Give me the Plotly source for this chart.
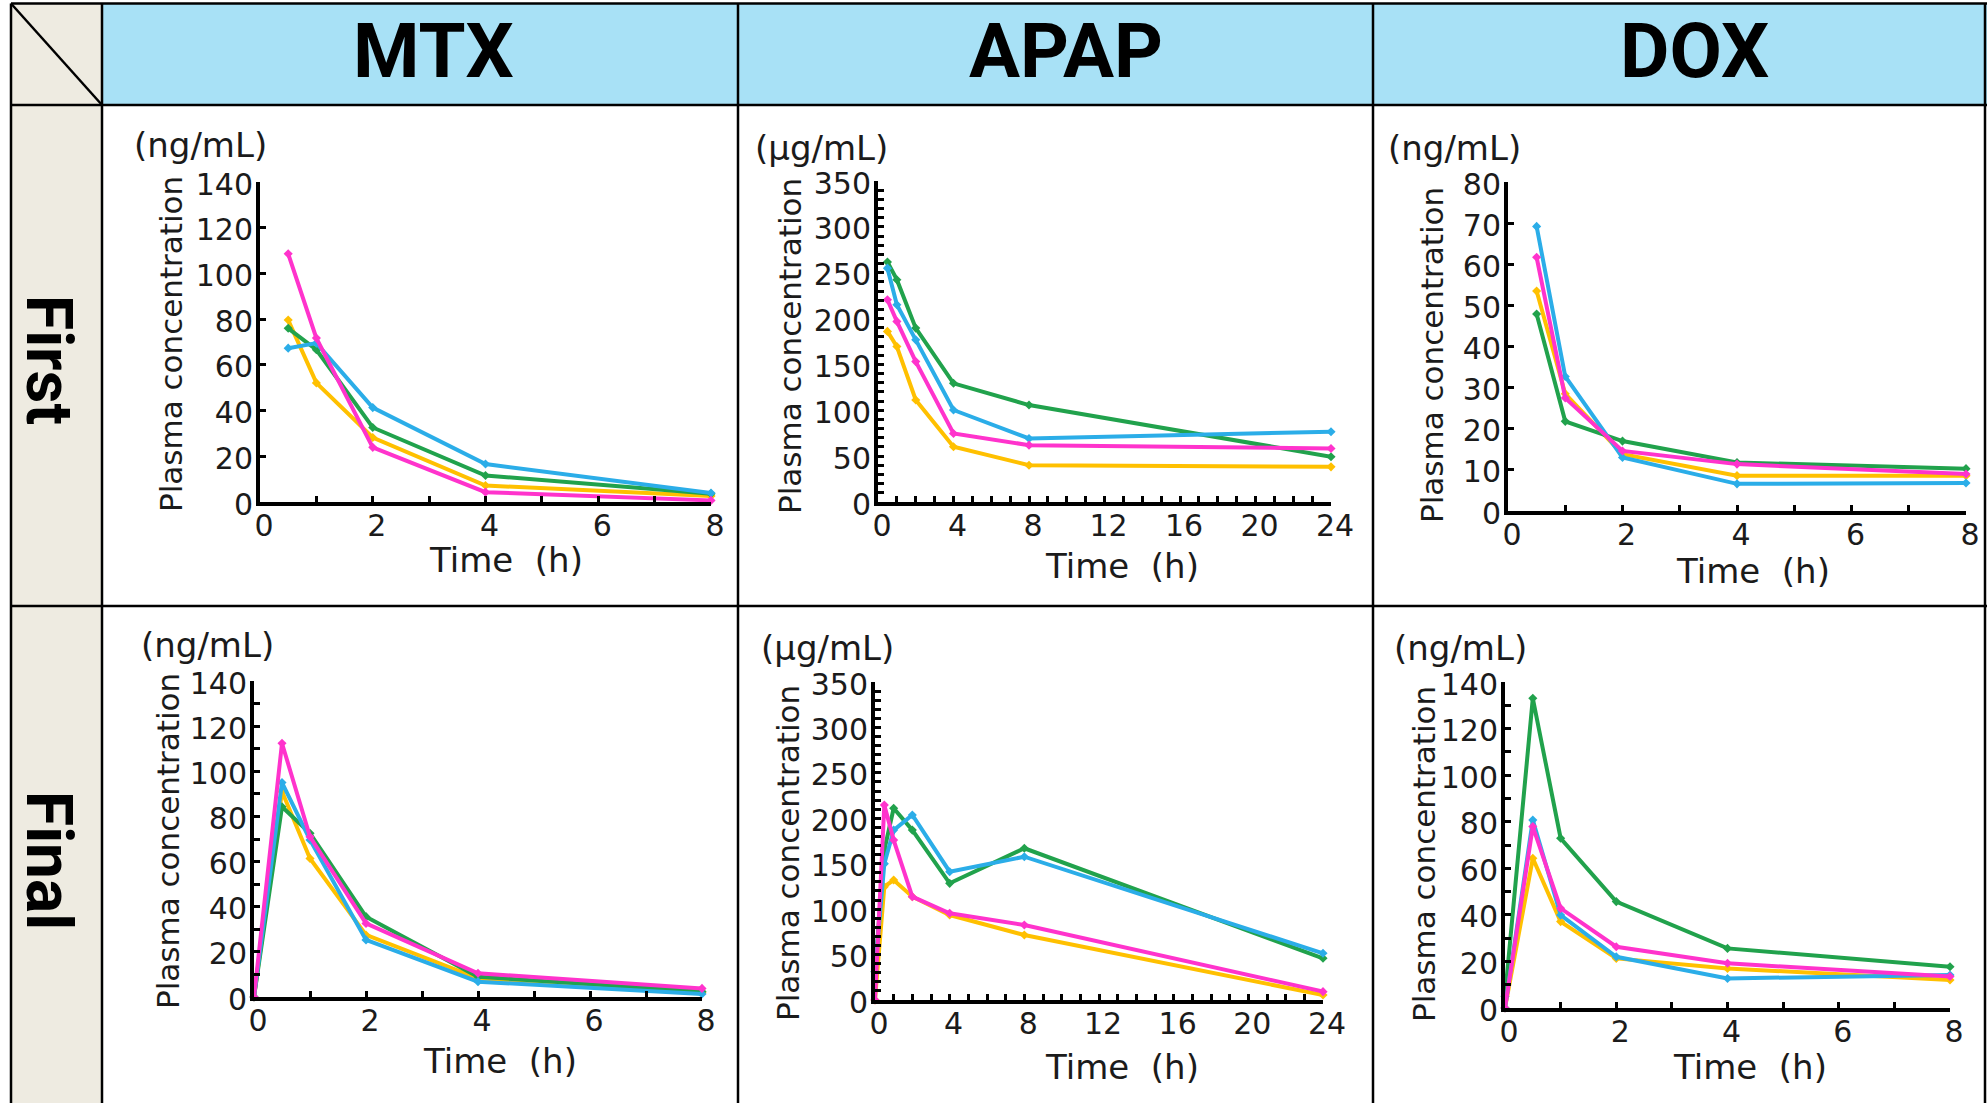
import plotly.graph_objects as go

W, H = 1987, 1103

# ---------------- data ----------------
drugs = ["MTX", "APAP", "DOX"]
phases = ["First", "Final"]
units = ["(ng/mL)", "(µg/mL)", "(ng/mL)"]
series_names = ["Series 1", "Series 2", "Series 3", "Series 4"]
series_colors = ["#FFC000", "#21A24C", "#2BADE8", "#FF33CC"]  # yellow, green, blue, pink

# MTX - First
mtx_first_t = [0.5, 1, 2, 4, 8]
mtx_first_yellow = [79.6, 52.1, 28.2, 7.2, 2.6]
mtx_first_green = [76.0, 66.6, 32.6, 11.6, 3.6]
mtx_first_blue = [67.3, 69.5, 41.3, 16.6, 3.9]
mtx_first_pink = [108.6, 71.7, 23.9, 4.3, 0.7]

# APAP - First
apap_first_t = [0.5, 1, 2, 4, 8, 24]
apap_first_yellow = [186.0, 169.5, 111.2, 60.2, 40.1, 38.3]
apap_first_green = [261.7, 242.4, 189.6, 129.4, 105.7, 49.4]
apap_first_blue = [255.0, 215.0, 176.8, 100.3, 69.3, 76.6]
apap_first_pink = [220.6, 196.9, 153.1, 74.7, 62.0, 58.3]

# DOX - First
dox_first_t = [0.5, 1, 2, 4, 8]
dox_first_yellow = [53.5, 28.5, 13.8, 8.6, 8.6]
dox_first_green = [47.9, 21.8, 17.0, 11.8, 10.3]
dox_first_blue = [69.2, 32.7, 13.0, 6.6, 6.8]
dox_first_pink = [61.7, 27.5, 14.6, 11.4, 9.0]

# MTX - Final
mtx_final_t = [0, 0.5, 1, 2, 4, 8]
mtx_final_yellow = [0, 91.0, 61.4, 27.5, 8.3, 1.9]
mtx_final_green = [0, 84.3, 72.5, 35.6, 9.0, 2.4]
mtx_final_blue = [0, 95.0, 69.6, 25.3, 6.8, 1.3]
mtx_final_pink = [0, 112.4, 71.0, 32.6, 10.5, 3.8]

# APAP - Final
apap_final_t = [0, 0.5, 1, 2, 4, 8, 24]
apap_final_yellow = [0, 124.7, 132.0, 113.7, 93.5, 71.5, 5.5]
apap_final_green = [31, 165.0, 211.0, 187.0, 128.4, 167.0, 45.9]
apap_final_blue = [31, 150.0, 187.0, 203.6, 141.2, 157.7, 51.4]
apap_final_pink = [0, 214.6, 176.0, 113.7, 95.4, 82.5, 9.2]

# DOX - Final
dox_final_t = [0, 0.5, 1, 2, 4, 8]
dox_final_yellow = [0, 64.3, 37.1, 21.3, 17.0, 12.0]
dox_final_green = [5, 133.0, 72.9, 45.7, 25.6, 17.7]
dox_final_blue = [0, 80.7, 39.9, 22.0, 12.7, 14.2]
dox_final_pink = [0, 77.9, 42.8, 26.3, 19.2, 13.5]

# axis scales per panel
x_max = [8, 24, 8, 8, 24, 8]
x_label_step = [2, 4, 2, 2, 4, 2]
y_max = [140, 350, 80, 140, 350, 140]
y_label_step = [20, 50, 10, 20, 50, 20]
y_minor_step = [20, 10, 10, 10, 10, 10]

panel_data = [
    (mtx_first_t, [mtx_first_yellow, mtx_first_green, mtx_first_blue, mtx_first_pink]),
    (apap_first_t, [apap_first_yellow, apap_first_green, apap_first_blue, apap_first_pink]),
    (dox_first_t, [dox_first_yellow, dox_first_green, dox_first_blue, dox_first_pink]),
    (mtx_final_t, [mtx_final_yellow, mtx_final_green, mtx_final_blue, mtx_final_pink]),
    (apap_final_t, [apap_final_yellow, apap_final_green, apap_final_blue, apap_final_pink]),
    (dox_final_t, [dox_final_yellow, dox_final_green, dox_final_blue, dox_final_pink]),
]

# ---------------- layout geometry (pixels) ----------------
# plot areas: (left, right, top, bottom)
boxes = [
    (260, 711, 182, 502),
    (878, 1331, 181, 502),
    (1508, 1966, 182, 511),
    (254, 702, 681, 997),
    (875, 1323, 682, 1000),
    (1505, 1950, 682, 1008),
]
unit_pos = [(132, 145), (753, 148), (1386, 148), (139, 645), (759, 648), (1392, 648)]
ytitle_pos = [(171, 344), (790, 346), (1432, 355), (168, 841), (788, 853), (1424, 854)]
xtitle_pos = [(506, 560), (1122, 566), (1753, 571), (500, 1061), (1122, 1067), (1750, 1067)]

col_lines = [11, 102, 738, 1373, 1985]
row_lines = [3.5, 105, 606]
header_centers = [433, 1066, 1694]
header_y = 51
row_label_x = 49
row_label_y = [360, 860]


def px(x):
    return x / W


def py(y):
    return 1 - y / H


fig = go.Figure()

FONT = "DejaVu Sans, Verdana, sans-serif"
TXT = "#1b1b1b"

for i, (t, ys) in enumerate(panel_data):
    k = i + 1
    xa = "x" if k == 1 else f"x{k}"
    ya = "y" if k == 1 else f"y{k}"
    for name, color, vals in zip(series_names, series_colors, ys):
        fig.add_trace(go.Scatter(
            x=t, y=vals, mode="lines+markers", name=name,
            line=dict(color=color, width=4),
            marker=dict(color=color, size=7, symbol="diamond"),
            xaxis=xa, yaxis=ya, showlegend=False, cliponaxis=False,
        ))
    l, r, tp, b = boxes[i]
    axis_common = dict(
        showline=True, linecolor="black", linewidth=4, mirror=False,
        ticks="inside", ticklen=6, tickwidth=3, tickcolor="black",
        showgrid=False, zeroline=False, fixedrange=True, automargin=False,
        tickfont=dict(family=FONT, size=30, color=TXT),
    )
    fig.layout[f"xaxis{'' if k == 1 else k}"] = dict(
        axis_common,
        domain=[px(l), px(r)], range=[0, x_max[i]],
        anchor=ya, tick0=0, dtick=x_label_step[i],
        ticklabelstandoff=-6, ticklabelshift=4,
        minor=dict(ticks="inside", dtick=1, tick0=0, ticklen=6, tickwidth=3, tickcolor="black"),
    )
    fig.layout[f"yaxis{'' if k == 1 else k}"] = dict(
        axis_common,
        domain=[py(b), py(tp)], range=[0, y_max[i]],
        anchor=xa, tick0=0, dtick=y_label_step[i],
        ticklabelstandoff=-3, ticklabelshift=2,
        minor=dict(ticks="inside", dtick=y_minor_step[i], tick0=0, ticklen=6, tickwidth=3, tickcolor="black"),
    )

annotations = []
for i in range(6):
    ux, uy = unit_pos[i]
    annotations.append(dict(
        x=px(ux), y=py(uy), xref="paper", yref="paper", xanchor="left", yanchor="middle",
        text=units[i % 3], showarrow=False, font=dict(family=FONT, size=34, color=TXT)))
    tx, ty = ytitle_pos[i]
    annotations.append(dict(
        x=px(tx), y=py(ty), xref="paper", yref="paper", xanchor="center", yanchor="middle",
        text="Plasma concentration", textangle=-90, showarrow=False,
        font=dict(family=FONT, size=31, color=TXT)))
    xx, xy = xtitle_pos[i]
    annotations.append(dict(
        x=px(xx), y=py(xy), xref="paper", yref="paper", xanchor="center", yanchor="middle",
        text="Time&nbsp;&nbsp;(h)", showarrow=False, font=dict(family=FONT, size=34, color=TXT)))

for j, d in enumerate(drugs):
    annotations.append(dict(
        x=px(header_centers[j]), y=py(header_y), xref="paper", yref="paper",
        xanchor="center", yanchor="middle", text=f"<b>{d}</b>", showarrow=False,
        font=dict(family="Roboto, Arial, sans-serif", size=76, color="black")))
for j, p in enumerate(phases):
    annotations.append(dict(
        x=px(row_label_x), y=py(row_label_y[j]), xref="paper", yref="paper",
        xanchor="center", yanchor="middle", text=f"<b>{p}</b>", textangle=90, showarrow=False,
        font=dict(family="Roboto, Arial, sans-serif", size=64, color="black")))

shapes = []
# fills
shapes.append(dict(type="rect", xref="paper", yref="paper", layer="below",
                   x0=px(col_lines[0]), x1=px(col_lines[1]), y0=py(H), y1=py(row_lines[0]),
                   fillcolor="#EEEBE1", line=dict(width=0)))
shapes.append(dict(type="rect", xref="paper", yref="paper", layer="below",
                   x0=px(col_lines[1]), x1=px(W), y0=py(row_lines[1]), y1=py(row_lines[0]),
                   fillcolor="#A8E1F6", line=dict(width=0)))
# grid lines
for xv in col_lines:
    shapes.append(dict(type="line", xref="paper", yref="paper", layer="above",
                       x0=px(xv), x1=px(xv), y0=py(row_lines[0]), y1=py(H),
                       line=dict(color="black", width=2.5)))
for yv in row_lines:
    shapes.append(dict(type="line", xref="paper", yref="paper", layer="above",
                       x0=px(col_lines[0]), x1=px(W), y0=py(yv), y1=py(yv),
                       line=dict(color="black", width=2.5)))
# diagonal in corner cell
shapes.append(dict(type="line", xref="paper", yref="paper", layer="above",
                   x0=px(col_lines[0]), y0=py(row_lines[0]), x1=px(col_lines[1]), y1=py(row_lines[1]),
                   line=dict(color="black", width=2.5)))

fig.update_layout(
    width=W, height=H, margin=dict(l=0, r=0, t=0, b=0, autoexpand=False),
    paper_bgcolor="white", plot_bgcolor="rgba(0,0,0,0)",
    annotations=annotations, shapes=shapes, showlegend=False,
)

fig.write_html("out.html", config={"displayModeBar": False},
               post_script="document.body.style.margin='0px';document.body.style.overflow='hidden';")
